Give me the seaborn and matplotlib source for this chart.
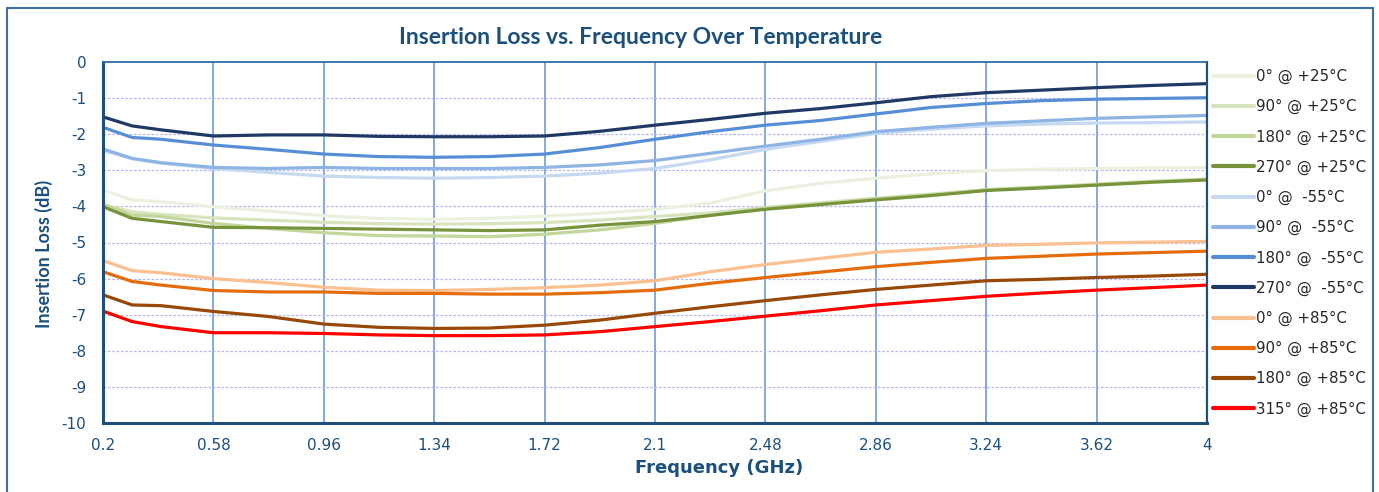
import pandas as pd
import matplotlib
matplotlib.use("Agg")
import matplotlib.pyplot as plt
import matplotlib.patches as mpatches
import seaborn as sns

# frequency points (GHz)
freq = [0.2, 0.3, 0.4, 0.58, 0.77, 0.96, 1.15, 1.34, 1.53, 1.72, 1.91,
        2.1, 2.29, 2.48, 2.67, 2.86, 3.05, 3.24, 3.43, 3.62, 3.81, 4.0]

# insertion loss (dB), one list per curve
il_0_p25 = [-3.55, -3.82, -3.87, -4.01, -4.13, -4.26, -4.33, -4.36, -4.33, -4.27, -4.19,
            -4.08, -3.91, -3.57, -3.36, -3.22, -3.10, -3.01, -2.97, -2.95, -2.94, -2.92]
il_90_p25 = [-3.95, -4.15, -4.22, -4.32, -4.38, -4.44, -4.48, -4.49, -4.48, -4.45, -4.38,
             -4.28, -4.18, -4.03, -3.90, -3.77, -3.66, -3.54, -3.46, -3.38, -3.30, -3.24]
il_180_p25 = [-3.95, -4.24, -4.28, -4.47, -4.61, -4.73, -4.81, -4.82, -4.84, -4.77, -4.65,
              -4.47, -4.25, -4.05, -3.93, -3.79, -3.68, -3.54, -3.47, -3.40, -3.32, -3.25]
il_270_p25 = [-4.01, -4.33, -4.42, -4.58, -4.59, -4.61, -4.63, -4.65, -4.67, -4.65, -4.52,
              -4.42, -4.25, -4.08, -3.95, -3.82, -3.70, -3.56, -3.49, -3.41, -3.33, -3.27]
il_0_m55 = [-2.45, -2.68, -2.80, -2.95, -3.06, -3.16, -3.20, -3.22, -3.20, -3.16, -3.08,
            -2.95, -2.71, -2.42, -2.20, -1.98, -1.86, -1.77, -1.72, -1.69, -1.68, -1.66]
il_90_m55 = [-2.41, -2.67, -2.79, -2.92, -2.95, -2.92, -2.95, -2.95, -2.95, -2.92, -2.85,
             -2.73, -2.53, -2.33, -2.14, -1.93, -1.81, -1.70, -1.63, -1.56, -1.52, -1.48]
il_180_m55 = [-1.81, -2.09, -2.14, -2.30, -2.42, -2.55, -2.62, -2.64, -2.62, -2.55, -2.37,
              -2.14, -1.93, -1.75, -1.62, -1.44, -1.26, -1.15, -1.07, -1.03, -1.01, -0.99]
il_270_m55 = [-1.52, -1.77, -1.88, -2.05, -2.02, -2.02, -2.06, -2.07, -2.07, -2.05, -1.92,
              -1.75, -1.59, -1.42, -1.29, -1.13, -0.96, -0.85, -0.78, -0.71, -0.65, -0.60]
il_0_p85 = [-5.50, -5.78, -5.84, -6.00, -6.11, -6.24, -6.32, -6.33, -6.30, -6.25, -6.18,
            -6.06, -5.81, -5.61, -5.44, -5.27, -5.18, -5.08, -5.05, -5.01, -4.99, -4.97]
il_90_p85 = [-5.81, -6.08, -6.18, -6.33, -6.37, -6.37, -6.41, -6.41, -6.43, -6.43, -6.39,
             -6.32, -6.13, -5.97, -5.82, -5.67, -5.55, -5.44, -5.38, -5.32, -5.28, -5.24]
il_180_p85 = [-6.45, -6.73, -6.75, -6.91, -7.05, -7.26, -7.35, -7.38, -7.37, -7.29, -7.15,
              -6.96, -6.78, -6.61, -6.45, -6.30, -6.18, -6.06, -6.02, -5.97, -5.93, -5.88]
il_315_p85 = [-6.90, -7.19, -7.33, -7.50, -7.50, -7.52, -7.56, -7.58, -7.58, -7.56, -7.47,
              -7.33, -7.19, -7.04, -6.89, -6.73, -6.61, -6.49, -6.40, -6.32, -6.25, -6.18]

labels = ["0° @ +25°C", "90° @ +25°C", "180° @ +25°C", "270° @ +25°C",
          "0° @  -55°C", "90° @  -55°C", "180° @  -55°C", "270° @  -55°C",
          "0° @ +85°C", "90° @ +85°C", "180° @ +85°C", "315° @ +85°C"]
series = [il_0_p25, il_90_p25, il_180_p25, il_270_p25,
          il_0_m55, il_90_m55, il_180_m55, il_270_m55,
          il_0_p85, il_90_p85, il_180_p85, il_315_p85]
colors = ["#ebf1de", "#d7e4bd", "#c3d69b", "#77933c",
          "#c6d9f1", "#8eb4e3", "#558ed5", "#1f3864",
          "#fac090", "#e46c0a", "#984807", "#ff0000"]

xticks = [0.2, 0.58, 0.96, 1.34, 1.72, 2.1, 2.48, 2.86, 3.24, 3.62, 4]
xticklabels = ["0.2", "0.58", "0.96", "1.34", "1.72", "2.1", "2.48", "2.86", "3.24", "3.62", "4"]
yticks = [0, -1, -2, -3, -4, -5, -6, -7, -8, -9, -10]

# long-form table for seaborn
rows = []
for lab, vals in zip(labels, series):
    for f, v in zip(freq, vals):
        rows.append({"Frequency": f, "IL": v, "Curve": lab})
df = pd.DataFrame(rows)

sns.set_style("white")
plt.rcParams["font.family"] = ["DejaVu Sans"]
dark = "#1b4f7c"

fig = plt.figure(figsize=(13.79, 4.92), dpi=100)
ax = fig.add_axes([103 / 1379, 1 - 423 / 492, (1207 - 103) / 1379, (423 - 62) / 492])

sns.lineplot(data=df, x="Frequency", y="IL", hue="Curve", hue_order=labels,
             palette=dict(zip(labels, colors)), linewidth=2.3, ax=ax, legend=True)

ax.set_xlim(0.2, 4)
ax.set_ylim(-10, 0)
ax.set_xticks(xticks)
ax.set_xticklabels(xticklabels)
ax.set_yticks(yticks)
ax.set_yticklabels([str(v) for v in yticks])
ax.tick_params(length=0, labelsize=11, labelcolor=dark)
ax.tick_params(axis="x", pad=11)
ax.tick_params(axis="y", pad=12)
ax.set_xlabel("")
ax.set_ylabel("")

# grid: solid blue verticals, dotted lavender horizontals
for x in xticks[1:-1]:
    ax.axvline(x, color="#6f9bd8", lw=1.2, zorder=0)
for y in yticks[1:-1]:
    ax.axhline(y, color="#b4b4f4", lw=0.9, ls=(0, (2, 1.5)), zorder=0)

for side in ["left", "bottom"]:
    ax.spines[side].set_color("#1f4e79")
    ax.spines[side].set_linewidth(2.2)
ax.spines["top"].set_color("#2e6ca4")
ax.spines["top"].set_linewidth(1.3)
ax.spines["right"].set_color("#1f4e79")
ax.spines["right"].set_linewidth(1.6)

# legend on the right
handles, labs = ax.get_legend_handles_labels()
ax.get_legend().remove()
for h in handles:
    h.set_linewidth(3)
fig.legend(handles, labs, loc="upper left", bbox_to_anchor=(1213 / 1379, 1 - 69 / 492),
           frameon=False, fontsize=10.8, handlelength=2.7, handletextpad=0.2,
           labelspacing=1.0, borderpad=0, borderaxespad=0)

# titles
fig.text(641 / 1379, 1 - 37 / 492, "Insertion Loss vs. Frequency Over Temperature",
         ha="center", va="center", fontsize=16.5, fontweight="bold", color=dark, family="Lato")
fig.text(719 / 1379, 1 - 468 / 492, "Frequency (GHz)", ha="center", va="center",
         fontsize=13, fontweight="bold", color=dark)
fig.text(44 / 1379, 1 - 254 / 492, "Insertion Loss (dB)", ha="center", va="center",
         rotation=90, fontsize=13, fontweight="bold", color=dark, family="Lato")

# outer chart border (bottom edge cut off)
border = mpatches.Rectangle((7 / 1379, -0.05), (1373 - 7) / 1379, 1.05 - 8 / 492,
                            transform=fig.transFigure, fill=False, edgecolor="#3f6f9f",
                            linewidth=1.5, clip_on=False)
fig.patches.append(border)

fig.savefig("out.png", dpi=100)
